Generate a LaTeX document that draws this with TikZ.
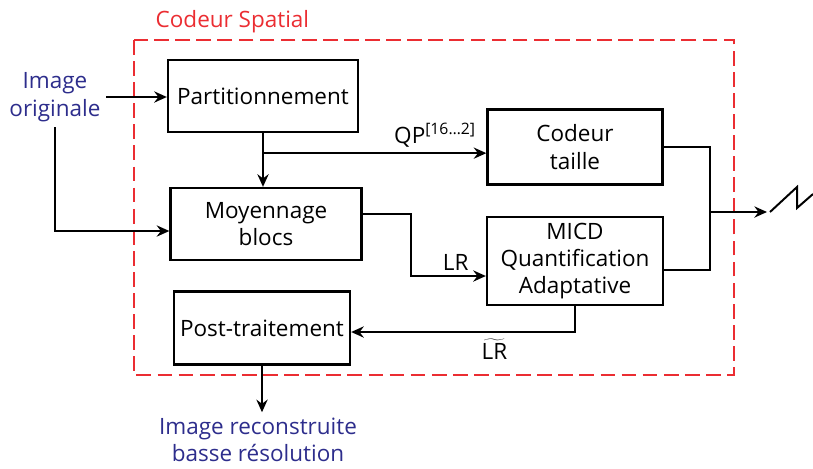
\documentclass[tikz,border=0pt]{standalone}
\usepackage{fontspec}
\setmainfont{Open Sans}
\usepackage{xcolor}
\usepackage{tikz}
\usetikzlibrary{positioning,arrows.meta}
\definecolor{bleuimg}{RGB}{45,45,140}
\definecolor{rougecadre}{RGB}{235,45,50}

\begin{document}
\begin{tikzpicture}[x=0.025cm, y=-0.025cm, line width=1.4pt,
  >={Stealth[length=9pt,width=8pt,inset=3pt]},
  every node/.style={font=\fontsize{16}{19.5}\selectfont},
  bloc/.style={draw, line width=1.6pt, align=center, inner sep=0pt}]
\useasboundingbox (0,0) rectangle (813,468);

  % Cadre du codeur
  \draw[rougecadre, line width=1.5pt, dash pattern=on 10.5pt off 4.5pt] (134,40) rectangle (734,375);
  \node[rougecadre, anchor=west] (titre) at (150,22) {Codeur Spatial};

  % Blocs
  \node[bloc, minimum width=4.75cm, minimum height=1.8cm] (part) at (263,96) {Partitionnement};
  \node[bloc, minimum width=4.375cm, minimum height=1.875cm] (ct) at (575,147) {Codeur \\ taille};
  \node[bloc, minimum width=4.775cm, minimum height=1.8cm] (moy) at (266,224) {Moyennage \\ blocs};
  \node[bloc, minimum width=4.4cm, minimum height=2.2cm] (micd) at (575,261) {MICD \\ Quantification \\ Adaptative};
  \node[bloc, minimum width=4.4cm, minimum height=1.825cm] (post) at (262,328) {Post-traitement};

  % Entree et sortie
  \node[bleuimg, align=center] (orig) at (55,97) {Image \\ originale};
  \node[bleuimg, align=center] (recon) at (258,440) {Image reconstruite \\ basse résolution};

  % Flechas
  \draw[->] (orig.east) -- (orig.east -| part.west);
  \draw[->] (orig.south) |- ([yshift=-0.175cm]moy.west);
  \draw[->] (part.south) -- (part.south |- moy.north);
  \coordinate[below=0.5cm of part.south] (br);
  \draw[->] (br) -- (br -| ct.west) node[pos=0.77, above] {QP\textsuperscript{[16\ldots2]}};
  \draw[->] ([yshift=0.25cm]moy.east) -- ++(48,0) |- ([yshift=-0.375cm]micd.west)
    node[pos=0.8, above] {LR};
  \draw[->] (micd.south) |- ([yshift=-0.1cm]post.east)
    node[pos=0.68, below=1pt] {$\widetilde{\mbox{LR}}$};

  % Canal
  \coordinate (jn) at (710,212);
  \coordinate (ant) at (767,212);
  \draw (ct.east) -| (jn) |- ([yshift=-0.225cm]micd.east);
  \draw[->] (jn) -- (ant);
  \draw ([xshift=0.075cm]ant) -- ++(27,-25) -- ++(0,21) -- ++(16,-14);

  \draw[->] (post.south) -- (post.south |- recon.north);

\end{tikzpicture}
\end{document}
